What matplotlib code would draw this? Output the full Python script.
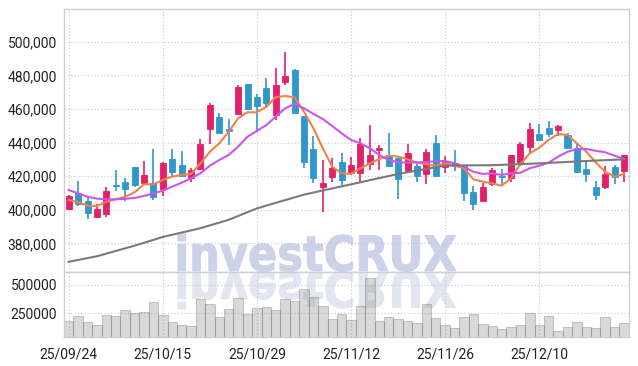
import numpy as np
import matplotlib
matplotlib.use('Agg')
import matplotlib.pyplot as plt
from matplotlib.ticker import FuncFormatter
from matplotlib.textpath import TextPath
from matplotlib.patches import PathPatch
from matplotlib.font_manager import FontProperties
from matplotlib.transforms import Affine2D

plt.rcParams['font.family'] = ['Roboto', 'DejaVu Sans']

# 일봉 데이터 (60 거래일)
opens = [400200, 409800, 405200, 395800, 397300, 414800, 416500, 425400, 416100, 415900,
         412200, 430400, 426600, 418700, 424100, 448200, 455200, 447900, 457100, 474800,
         467300, 472600, 456400, 476200, 483200, 455800, 436100, 413300, 419300, 428400,
         421700, 421700, 427000, 435500, 432600, 430600, 423000, 426000, 421100, 439500,
         425200, 427600, 426600, 410500, 405400, 415100, 420100, 418700, 428200, 437200,
         445100, 448600, 447500, 444500, 436600, 424200, 413300, 413700, 425200, 423200]
closes = [408200, 403200, 397900, 400400, 411100, 414300, 412500, 414900, 420700, 407700,
          427800, 422600, 420200, 423600, 439100, 462300, 445800, 447000, 473000, 459900,
          461700, 463500, 474200, 479800, 457400, 428600, 418700, 415700, 424600, 417700,
          426500, 439100, 432600, 436500, 426200, 418100, 433900, 420200, 434200, 420200,
          428200, 426200, 410100, 403200, 413300, 423600, 419300, 432600, 439100, 448000,
          441500, 445200, 450000, 436900, 422600, 421400, 408800, 421300, 419300, 432600]
highs = [408800, 417100, 406800, 403200, 413700, 423600, 419100, 425400, 428800, 436000,
         428300, 436100, 434900, 424600, 442100, 463700, 457400, 453800, 474200, 475000,
         468700, 478600, 484200, 494100, 483500, 455800, 444100, 429600, 430600, 433900,
         431200, 442500, 450400, 438500, 445500, 430600, 439100, 427600, 436000, 444500,
         432000, 435500, 426600, 414100, 415700, 425000, 424100, 432600, 440100, 451400,
         451000, 452800, 450500, 445500, 439100, 428600, 417100, 426000, 426600, 432600]
lows = [400000, 402200, 394300, 395100, 395800, 411000, 405000, 413300, 414700, 405800,
        408200, 419700, 419700, 416300, 423800, 439100, 445800, 438300, 457100, 459900,
        446400, 460500, 453400, 474200, 457400, 424600, 416100, 398800, 416700, 414100,
        420700, 416700, 423600, 423600, 425600, 406400, 423000, 416700, 415300, 420200,
        422000, 423200, 405200, 399800, 405400, 414100, 414700, 416700, 426200, 433600,
        441500, 443100, 443900, 436900, 421700, 416300, 405800, 412300, 415300, 416700]
volumes = [182000, 223000, 173000, 144000, 235000, 226000, 276000, 250000, 259000, 347000,
           235000, 173000, 147000, 135000, 374000, 329000, 217000, 285000, 382000, 244000,
           294000, 303000, 279000, 374000, 359000, 462000, 391000, 314000, 197000, 244000,
           191000, 314000, 559000, 182000, 217000, 200000, 182000, 164000, 332000, 208000,
           147000, 117000, 217000, 244000, 155000, 138000, 111000, 129000, 147000, 253000,
           147000, 223000, 94000, 129000, 173000, 129000, 120000, 217000, 129000, 164000]

# 이동평균선
ma_short = [405800, 404400, 402400, 402200, 404800, 406200, 407700, 410400, 415100, 415100,
            417700, 419700, 420700, 421300, 427600, 434500, 439500, 446400, 454400, 458000,
            458000, 461300, 467000, 467700, 466900, 458300, 448500, 436600, 425600, 421700,
            421300, 424700, 427600, 430200, 432200, 431600, 430000, 428000, 427200, 426000,
            427600, 426200, 424700, 418100, 416700, 415700, 414300, 418700, 427200, 433600,
            436900, 441500, 445100, 444500, 439500, 434500, 428200, 422600, 419700, 421300]
ma_mid = [411700, 409800, 407700, 406600, 406200, 406200, 406500, 407000, 408200, 409800,
          411300, 413700, 416100, 418700, 421700, 426200, 429600, 432600, 437500, 443500,
          446900, 450400, 455400, 460400, 462900, 460400, 457000, 454000, 449800, 445500,
          441500, 439500, 436600, 432600, 429600, 428200, 428000, 428200, 428400, 428800,
          429000, 427600, 425600, 422600, 421300, 421700, 420700, 421700, 422000, 424700,
          426200, 428000, 431600, 434500, 436100, 436100, 435100, 434200, 432200, 430200]
ma_long_idx = [0, 3, 7, 10, 14, 17, 20, 25, 30, 35, 40, 45, 50, 55, 59]
ma_long = [369000, 372300, 378600, 383800, 389000, 394000, 400800, 409000, 415100, 421300,
           426300, 426500, 427600, 429000, 430000]

tick_idx = [0, 10, 20, 30, 40, 50]
tick_labels = ['25/09/24', '25/10/15', '25/10/29', '25/11/12', '25/11/26', '25/12/10']
price_ticks = [380000, 400000, 420000, 440000, 460000, 480000, 500000]
vol_ticks = [250000, 500000]

UP = '#e3206b'
DOWN = '#2f97cb'
GRID = '#c3c7db'
SPINE = '#cfcfcf'

fig = plt.figure(figsize=(6.38, 3.66), dpi=100)
ax = fig.add_axes([0.1003, 0.2560, 0.8851, 0.7186])
vax = fig.add_axes([0.1003, 0.0784, 0.8851, 0.1776], sharex=ax)

x = np.arange(len(opens))
for i in x:
    o, c = opens[i], closes[i]
    col = UP if c >= o else DOWN
    ax.vlines(i, lows[i], highs[i], color=col, lw=1.2, zorder=2)
    ax.bar(i, max(abs(c - o), 300), bottom=min(o, c), width=0.64,
           color=col, edgecolor=col, lw=0.6, zorder=2.1)

ax.plot(x, ma_short, color='#ef8249', lw=1.5, zorder=3)
ax.plot(x, ma_mid, color='#cc55ea', lw=1.5, zorder=3)
ax.plot(ma_long_idx, ma_long, color='#7a7a7a', lw=1.5, zorder=3)

vax.bar(x, volumes, width=1.0, color=(0.55, 0.55, 0.55, 0.33),
        edgecolor=(0.45, 0.45, 0.45, 0.35), lw=0.8, zorder=2)

ax.set_xlim(-0.5, 59.5)
ax.set_ylim(362750, 519300)
vax.set_ylim(38000, 612000)

ax.set_yticks(price_ticks)
ax.yaxis.set_major_formatter(FuncFormatter(lambda v, p: '{:,.0f}'.format(v)))
vax.set_yticks(vol_ticks)
vax.yaxis.set_major_formatter(FuncFormatter(lambda v, p: '{:.0f}'.format(v)))
vax.set_xticks(tick_idx)
vax.set_xticklabels(tick_labels)
ax.tick_params(axis='x', labelbottom=False)

for a in (ax, vax):
    a.grid(True, color=GRID, lw=0.8, linestyle=(0, (1, 2)))
    a.tick_params(length=0, labelsize=10, colors='#222222', pad=5)
    for s in a.spines.values():
        s.set_color(SPINE)
        s.set_linewidth(1.0)
vax.tick_params(axis='x', pad=7)

# 워터마크 (반사 포함)
tp = TextPath((0, 0), 'investCRUX', size=50,
              prop=FontProperties(family='DejaVu Sans', weight='bold'))
ext = tp.get_extents()
H = 366
x0, x1, ytop, ybase = 178, 456, 234, 271.5
sx = (x1 - x0) / ext.width
sy = (ybase - ytop) / ext.height
tr = Affine2D().translate(-ext.x0, -ext.y0).scale(sx, sy).translate(x0, H - ybase)
ax.add_artist(PathPatch(tp, transform=tr, facecolor='#ccd2e8', edgecolor='#ccd2e8',
                        lw=0.8, zorder=0.8))
tr2 = Affine2D().translate(-ext.x0, -ext.y0).scale(sx, -sy).translate(x0, H - ybase)
vax.add_artist(PathPatch(tp, transform=tr2, facecolor='#e3e6f1', edgecolor='#e3e6f1',
                         lw=0.8, zorder=0.8))

fig.savefig('out.png', dpi=100)
